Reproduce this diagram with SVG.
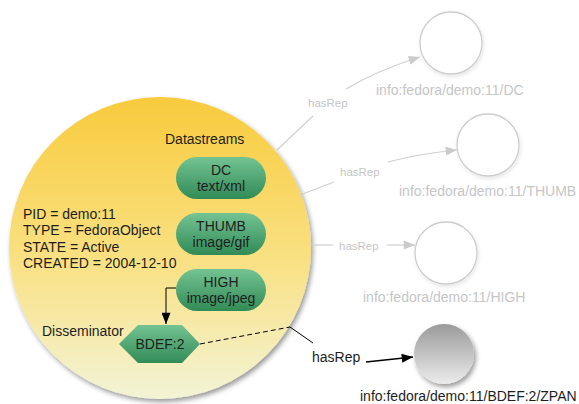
<svg xmlns="http://www.w3.org/2000/svg" width="579" height="404" viewBox="0 0 579 404">
<defs>
<style>
text{font-family:"Liberation Sans",Arial,sans-serif;}
.t{font-size:14px;fill:#1e1e1e;}
.bx{font-size:14px;fill:#1e1e1e;text-anchor:middle;}
.g{font-size:14px;fill:#c6c6c6;}
.gh{font-size:11.5px;fill:#c6c6c6;}
.ge{fill:none;stroke:#cfcfcf;stroke-width:1.2;}
.ring{fill:#fff;stroke:#cdcdcd;stroke-width:1.3;}
.ds{fill:url(#green);}
</style>
<linearGradient id="yellow" x1="0" y1="0" x2="0" y2="1">
<stop offset="0" stop-color="#f8cb3c"/>
<stop offset="0.55" stop-color="#f9e184"/>
<stop offset="1" stop-color="#f3f4d6"/>
</linearGradient>
<linearGradient id="green" x1="0" y1="0" x2="0" y2="1">
<stop offset="0" stop-color="#74c393"/>
<stop offset="1" stop-color="#318b57"/>
</linearGradient>
<linearGradient id="grey" x1="0" y1="0" x2="0" y2="1">
<stop offset="0" stop-color="#9a9a9a"/>
<stop offset="1" stop-color="#ececec"/>
</linearGradient>
<filter id="sh" x="-20%" y="-20%" width="150%" height="150%">
<feDropShadow dx="2" dy="3" stdDeviation="2.5" flood-color="#000" flood-opacity="0.4"/>
</filter>
<filter id="shl" x="-20%" y="-20%" width="150%" height="150%">
<feDropShadow dx="1" dy="2" stdDeviation="2" flood-color="#000" flood-opacity="0.1"/>
</filter>
<marker id="ag" viewBox="0 0 10 8" refX="10" refY="4" markerWidth="12" markerHeight="9" markerUnits="userSpaceOnUse" orient="auto">
<path d="M0,0 L10,4 L0,8 Z" fill="#cbcbcb"/>
</marker>
<marker id="ab" viewBox="0 0 10 8" refX="10" refY="4" markerWidth="12" markerHeight="9" markerUnits="userSpaceOnUse" orient="auto">
<path d="M0,0 L10,4 L0,8 Z" fill="#000"/>
</marker>
</defs>
<rect width="579" height="404" fill="#fff"/>

<g id="fedoraObject">
<circle cx="160" cy="248" r="151" fill="url(#yellow)" filter="url(#sh)"/>
<text class="t" x="165" y="144">Datastreams</text>
<text class="t" x="23" y="219">PID = demo:11</text>
<text class="t" x="23" y="235">TYPE = FedoraObject</text>
<text class="t" x="23" y="252">STATE = Active</text>
<text class="t" x="23" y="268">CREATED = 2004-12-10</text>
<text class="t" x="42" y="336">Disseminator</text>
</g>

<g id="ds-DC">
<rect class="ds" x="176" y="157" width="90" height="42" rx="21"/>
<text class="bx" x="221" y="175">DC</text>
<text class="bx" x="221" y="191">text/xml</text>
</g>
<g id="ds-THUMB">
<rect class="ds" x="176" y="213" width="90" height="42" rx="21"/>
<text class="bx" x="221" y="231">THUMB</text>
<text class="bx" x="221" y="247">image/gif</text>
</g>
<g id="ds-HIGH">
<rect class="ds" x="176" y="269" width="90" height="42" rx="21"/>
<text class="bx" x="221" y="287">HIGH</text>
<text class="bx" x="221" y="303">image/jpeg</text>
</g>
<g id="bdef">
<polygon class="ds" points="119,344 138,325 182,325 200,344 182,363 138,363"/>
<text class="bx" x="160" y="349">BDEF:2</text>
</g>

<g id="rep-DC">
<circle class="ring" cx="451" cy="43" r="31" filter="url(#shl)"/>
<text class="g" x="376" y="95">info:fedora/demo:11/DC</text>
</g>
<g id="rep-THUMB">
<circle class="ring" cx="488" cy="145" r="31" filter="url(#shl)"/>
<text class="g" x="399" y="196">info:fedora/demo:11/THUMB</text>
</g>
<g id="rep-HIGH">
<circle class="ring" cx="446" cy="253" r="31" filter="url(#shl)"/>
<text class="g" x="363" y="302">info:fedora/demo:11/HIGH</text>
</g>
<g id="rep-ZPAN">
<circle cx="444" cy="354" r="30" fill="url(#grey)" filter="url(#sh)"/>
<text class="t" x="360" y="401">info:fedora/demo:11/BDEF:2/ZPAN</text>
</g>

<g id="connectors">
<path class="ge" d="M277,150 L313,116"/>
<text class="gh" x="308" y="107">hasRep</text>
<path class="ge" d="M346,89 Q378,70 420,57" marker-end="url(#ag)"/>
<path class="ge" d="M300,195 L334,182"/>
<text class="gh" x="340" y="176">hasRep</text>
<path class="ge" d="M388,162 Q418,154 457,150" marker-end="url(#ag)"/>
<path class="ge" d="M310,245 L333,245"/>
<text class="gh" x="339" y="250">hasRep</text>
<path class="ge" d="M387,245 L415,245" marker-end="url(#ag)"/>
<path d="M176,288 L166,288 L166,324" fill="none" stroke="#000" stroke-width="1" marker-end="url(#ab)"/>
<path d="M200,344 L290,327" fill="none" stroke="#000" stroke-width="1" stroke-dasharray="5,3"/>
<path d="M290,327 L313,343" fill="none" stroke="#000" stroke-width="1"/>
<text class="t" x="312" y="362">hasRep</text>
<path d="M366,362 L413,357" fill="none" stroke="#000" stroke-width="1.3" marker-end="url(#ab)"/>
</g>
</svg>
